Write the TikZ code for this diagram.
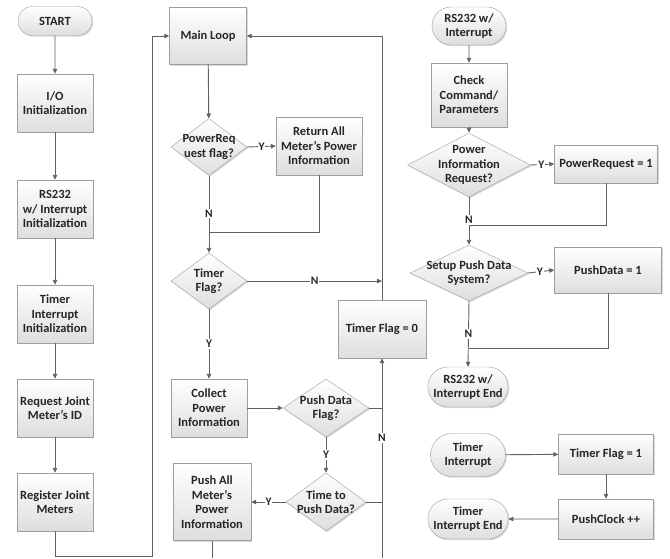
\documentclass[tikz,border=0pt]{standalone}
\usepackage{fontspec}
\setmainfont{Carlito}
\usetikzlibrary{positioning,shapes.geometric,shapes.misc,arrows.meta,shadows}

\tikzset{
  base/.style={draw=black!38, top color=white, bottom color=black!13,
    drop shadow={opacity=0.3, shadow xshift=1.2pt, shadow yshift=-1.2pt},
    font=\fontsize{12.5}{14.5}\selectfont\bfseries, text=black!85,
    align=center, inner sep=1pt},
  box/.style={base, rectangle},
  term/.style={base, rounded rectangle},
  dec/.style={base, diamond, inner sep=0pt},
  line/.style={draw=black!62, line width=0.9pt},
  arr/.style={line, -{Triangle[length=5pt,width=4.5pt]}},
  yn/.style={fill=white, inner sep=1pt, text=black!85,
    font=\fontsize{11.5}{12}\selectfont\bfseries},
  dectext/.style={font=\fontsize{12.5}{14.5}\selectfont\bfseries,
    text=black!85, align=center, inner sep=0pt},
}

\begin{document}
\begin{tikzpicture}[x=1pt, y=-1pt]
\useasboundingbox (0,0) rectangle (670,558);
\def\xa{55}
\def\xb{209}
\def\xc{326}
\def\xd{382}
\def\xe{469}
\def\xf{606}

\node[term, minimum width=76pt, minimum height=29pt](start) at (\xa, 21) {START};
\node[box, minimum width=76pt, minimum height=58pt](io) at (\xa, 103) {I/O\\Initialization};
\node[box, minimum width=76pt, minimum height=58pt](rsinit) at (\xa, 209) {RS232\\w/ Interrupt\\Initialization};
\node[box, minimum width=76pt, minimum height=58pt](tinit) at (\xa, 314) {Timer\\Interrupt\\Initialization};
\node[box, minimum width=76pt, minimum height=58pt](reqid) at (\xa, 408) {Request Joint\\Meter's ID};
\node[box, minimum width=76pt, minimum height=58pt](reg) at (\xa, 502) {Register Joint\\Meters};

\node[box, minimum width=77pt, minimum height=57pt](main) at (208, 36) {Main Loop};
\node[dec, minimum width=76pt, minimum height=57pt, label={[dectext]center:PowerReq\\uest flag?}](preq) at (\xb, 147) {};
\node[box, minimum width=86pt, minimum height=58pt](retall) at (319, 146) {Return All\\Meter's Power\\Information};
\node[dec, minimum width=76pt, minimum height=56pt, label={[dectext]center:Timer\\Flag?}](tflag) at (\xb, 281) {};
\node[box, minimum width=76pt, minimum height=58pt](collect) at (\xb, 408) {Collect\\Power\\Information};
\node[dec, minimum width=86pt, minimum height=58pt, label={[dectext]center:Push Data\\Flag?}](pflag) at (\xc, 408) {};
\node[dec, minimum width=80pt, minimum height=58pt, label={[dectext]center:Time to\\Push Data?}](ttp) at (\xc, 502) {};
\node[box, minimum width=78pt, minimum height=77pt](pushall) at (212, 502) {Push All\\Meter's\\Power\\Information};
\node[box, minimum width=88pt, minimum height=58pt](tf0) at (\xd, 329) {Timer Flag = 0};

\node[term, minimum width=76pt, minimum height=38pt](rsint) at (\xe, 26) {RS232 w/\\Interrupt};
\node[box, minimum width=76pt, minimum height=64pt](check) at (\xe, 95) {Check\\Command/\\Parameters};
\node[dec, minimum width=123pt, minimum height=64pt, label={[dectext]center:Power\\Information\\Request?}](pinfo) at (\xe, 165) {};
\node[box, minimum width=103pt, minimum height=38pt](preq1) at (\xf, 164) {PowerRequest = 1};
\node[dec, minimum width=118pt, minimum height=56pt, label={[dectext]center:Setup Push Data\\System?}](setup) at (\xe, 273) {};
\node[box, minimum width=107pt, minimum height=46pt](pd1) at (608, 270) {PushData = 1};
\node[term, minimum width=78pt, minimum height=40pt](rsend) at (468, 387) {RS232 w/\\Interrupt End};
\node[term, minimum width=77pt, minimum height=43pt](tint) at (468, 455) {Timer\\Interrupt};
\node[box, minimum width=95pt, minimum height=40pt](tf1) at (\xf, 454) {Timer Flag = 1};
\node[box, minimum width=95pt, minimum height=40pt](pclk) at (\xf, 519) {PushClock ++};
\node[term, minimum width=77pt, minimum height=40pt](tend) at (468, 519) {Timer\\Interrupt End};

\coordinate(bl) at (152, 556);
\coordinate(jn1) at (\xb, 232);
\coordinate(jn2) at (\xe, 225);
\coordinate(jn3) at (\xe, 348);
\coordinate(b1) at (212, 558);
\coordinate(b2) at (\xd, 558);

\draw[arr] (start) -- (io);
\draw[arr] (io) -- (rsinit);
\draw[arr] (rsinit) -- (tinit);
\draw[arr] (tinit) -- (reqid);
\draw[arr] (reqid) -- (reg);
\draw[arr] (reg.south) |- (bl) |- (main.west);

\draw[arr] (main) -- (preq);
\draw[arr] (preq.east) -- node[yn]{Y} (retall.west);
\draw[arr] (preq.south) -- node[yn, pos=0.49]{N} (tflag.north);
\draw[line] (retall.south) |- (jn1);
\draw[arr] (tflag.east) -- node[yn]{N} (tflag.east -| tf0.north);
\draw[arr] (tf0.north) |- (main.east);
\draw[arr] (tflag.south) -- node[yn]{Y} (collect.north);
\draw[arr] (collect) -- (pflag.west);
\draw[arr] (pflag.south) -- node[yn]{Y} (ttp.north);
\draw[arr] (ttp.west) -- node[yn]{Y} (pushall.east);
\draw[line] (pflag.east) -- (pflag.east -| tf0.south);
\draw[line] (ttp.east) -- (ttp.east -| tf0.south);
\draw[arr] (b2) -- node[yn, pos=0.6]{N} (tf0.south);
\draw[line] (pushall.south) -- (b1);

\draw[arr] (rsint) -- (check);
\draw[arr] (check) -- (pinfo.north);
\draw[arr] (pinfo.east) -- node[yn, pos=0.45]{Y} (preq1.west);
\draw[arr] (pinfo.south) -- node[yn, pos=0.48]{N} (setup.north);
\draw[line] (preq1.south) |- (jn2);
\draw[arr] (setup.east) -- node[yn, pos=0.45]{Y} (pd1.west);
\draw[arr] (setup.south) -- node[yn]{N} (rsend.north);
\draw[line] (pd1.south) |- (jn3);
\draw[arr] (tint) -- (tf1);
\draw[arr] (tf1) -- (pclk);
\draw[arr] (pclk) -- (tend);

\end{tikzpicture}
\end{document}
